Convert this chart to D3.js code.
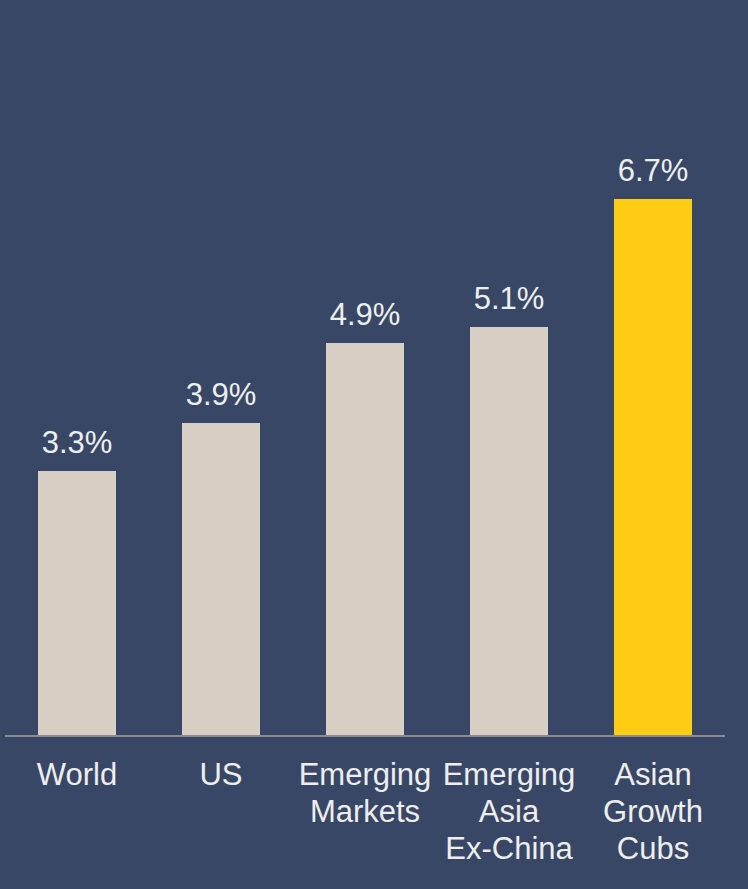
<!DOCTYPE html>
<html>
<head>
<meta charset="utf-8">
<script src="https://cdn.jsdelivr.net/npm/d3@7"></script>
<style>
  html, body { margin: 0; padding: 0; background: #384766; }
  svg { display: block; }
  svg text { font-family: Arial, "Liberation Sans", Helvetica, sans-serif; fill: #eeeeee; }
</style>
</head>
<body>
<div id="chart"></div>
<script>
const categories = [
  ["World"],
  ["US"],
  ["Emerging", "Markets"],
  ["Emerging", "Asia", "Ex-China"],
  ["Asian", "Growth", "Cubs"]
];
const values = [3.3, 3.9, 4.9, 5.1, 6.7];
const highlight = [false, false, false, false, true];

const width = 748, height = 889;
const baseY = 735;

const svg = d3.select("#chart")
  .append("svg")
  .attr("width", width)
  .attr("height", height);

svg.append("rect")
  .attr("width", width)
  .attr("height", height)
  .attr("fill", "#384766");

// band scale: bars 78px wide on a 144px step, first bar at x=38
const xScale = d3.scaleBand()
  .domain(d3.range(values.length))
  .range([5, 725])
  .paddingInner(66 / 144)
  .paddingOuter(33 / 144);

const yScale = d3.scaleLinear()
  .domain([0, 1])
  .range([baseY, baseY - 80]);

const data = values.map((v, i) => ({ i, v, cat: categories[i], hi: highlight[i] }));

svg.selectAll("rect.bar")
  .data(data)
  .join("rect")
  .attr("class", "bar")
  .attr("x", d => xScale(d.i))
  .attr("y", d => yScale(d.v))
  .attr("width", xScale.bandwidth())
  .attr("height", d => baseY - yScale(d.v))
  .attr("fill", d => d.hi ? "#ffcc14" : "#d8cec3");

// baseline
svg.append("line")
  .attr("x1", 5)
  .attr("x2", 725)
  .attr("y1", baseY + 1)
  .attr("y2", baseY + 1)
  .attr("stroke", "#8c8c8c")
  .attr("stroke-width", 2);

// value labels
svg.selectAll("text.val")
  .data(data)
  .join("text")
  .attr("class", "val")
  .attr("x", d => xScale(d.i) + xScale.bandwidth() / 2)
  .attr("y", d => yScale(d.v) - 18)
  .attr("text-anchor", "middle")
  .style("font-size", "31px")
  .text(d => d.v.toFixed(1) + "%");

// category labels
const catG = svg.selectAll("text.cat")
  .data(data)
  .join("text")
  .attr("class", "cat")
  .attr("text-anchor", "middle")
  .style("font-size", "31px");

catG.selectAll("tspan")
  .data(d => d.cat.map((line, j) => ({ line, j, i: d.i })))
  .join("tspan")
  .attr("x", d => xScale(d.i) + xScale.bandwidth() / 2)
  .attr("y", d => 785 + d.j * 37)
  .text(d => d.line);
</script>
</body>
</html>
